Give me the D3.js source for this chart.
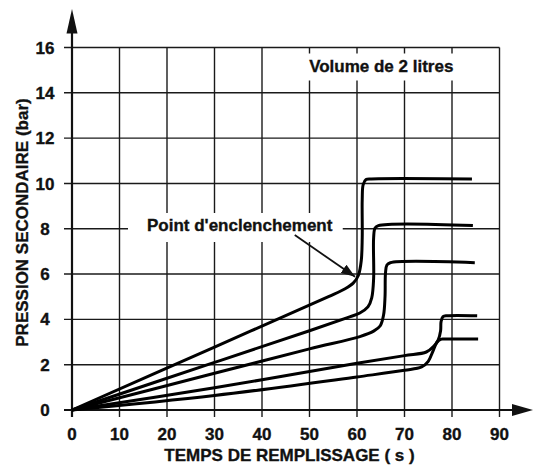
<!DOCTYPE html>
<html>
<head>
<meta charset="utf-8">
<script src="https://cdnjs.cloudflare.com/ajax/libs/d3/7.8.5/d3.min.js"></script>
<style>
body { margin: 0; background: #fff; }
text { font-family: "Liberation Sans", Arial, sans-serif; font-weight: bold; fill: #111; stroke: #111; stroke-width: 0.35px; }
</style>
</head>
<body>
<div id="chart"></div>
<script>
const xTicks = [0, 10, 20, 30, 40, 50, 60, 70, 80, 90];
const yTicks = [0, 2, 4, 6, 8, 10, 12, 14, 16];
const xTitle = "TEMPS DE REMPLISSAGE ( s )";
const yTitle = "PRESSION SECONDAIRE (bar)";
const volumeLabel = "Volume de 2 litres";
const pointLabel = "Point d'enclenchement";

// pression secondaire (bar) en fonction du temps (s)
const courbe10 = [[0, 0], [30, 2.78], [54, 5.0], [57.5, 5.35], [59.2, 5.6], [60.3, 5.95], [60.9, 6.6], [61.1, 7.6], [61.1, 9.3], [61.3, 9.95], [61.9, 10.17], [63, 10.2], [84.2, 10.2]];
const courbe8 = [[0, 0], [30, 2.1], [50, 3.5], [58, 4.08], [60.6, 4.28], [62.3, 4.55], [63.1, 4.95], [63.5, 5.8], [63.5, 7.6], [63.8, 8.03], [64.5, 8.14], [84.4, 8.14]];
const courbe65 = [[0, 0], [30, 1.62], [50, 2.7], [60.6, 3.24], [63.5, 3.48], [64.9, 3.72], [65.6, 4.2], [65.9, 5.0], [66, 6.05], [66.3, 6.4], [67, 6.5], [84.8, 6.5]];
const courbe4 = [[0, 0], [30, 0.98], [60, 2.06], [70, 2.4], [74.6, 2.56], [76.1, 2.8], [77.1, 3.1], [77.6, 3.5], [77.7, 3.9], [78.1, 4.12], [79, 4.16], [85.3, 4.16]];
const courbe3 = [[0, 0], [30, 0.64], [60, 1.46], [70, 1.75], [73.6, 1.9], [75, 2.15], [76, 2.6], [76.8, 2.98], [77.6, 3.12], [78.5, 3.13], [85.5, 3.13]];
const courbes = [courbe10, courbe8, courbe65, courbe4, courbe3];

// fleche "point d'enclenchement" : depart et pointe
const flecheDepart = [46.9, 7.72];
const flechePointe = [59.6, 5.88];

let width = 534, height = 466;
let margin = { top: 47.5, right: 34.5, bottom: 56, left: 72 };

let svg = d3.select("#chart")
    .append("svg")
    .attr("width", width)
    .attr("height", height);

let x = d3.scaleLinear().domain([0, 90]).range([margin.left, width - margin.right]);
let y = d3.scaleLinear().domain([0, 16]).range([height - margin.bottom, margin.top]);

// grid (extends past the axes as tick marks)
svg.append("g")
    .selectAll("line")
    .data(yTicks.filter(d => d > 0))
    .enter()
    .append("line")
    .attr("x1", x(0) - 8)
    .attr("x2", x(90))
    .attr("y1", d => y(d))
    .attr("y2", d => y(d))
    .attr("stroke", "#1a1a1a")
    .attr("stroke-width", 1.4);

svg.append("g")
    .selectAll("line")
    .data(xTicks.filter(d => d > 0))
    .enter()
    .append("line")
    .attr("x1", d => x(d))
    .attr("x2", d => x(d))
    .attr("y1", y(16))
    .attr("y2", y(0) + 7)
    .attr("stroke", "#1a1a1a")
    .attr("stroke-width", 1.4);

// labels with white boxes that cut the grid
function boxedLabel(str, tx, ty, anchor, pad) {
    let g = svg.append("g");
    let rect = g.append("rect").attr("fill", "#fff");
    let t = g.append("text")
        .attr("x", tx)
        .attr("y", ty)
        .attr("text-anchor", anchor)
        .style("font-size", "17px")
        .text(str);
    let b = t.node().getBBox();
    rect.attr("x", b.x - pad[3])
        .attr("y", b.y - pad[0])
        .attr("width", b.width + pad[1] + pad[3])
        .attr("height", b.height + pad[0] + pad[2]);
}
boxedLabel(volumeLabel, (x(50) + x(80)) / 2 + 0.5, 71.5, "middle", [3, 6, 5, 7]);
boxedLabel(pointLabel, 147, 231, "start", [3, 10, 7, 19]);

// axes
svg.append("line")
    .attr("x1", x(0)).attr("x2", x(0))
    .attr("y1", y(0) + 7).attr("y2", y(16) - 16)
    .attr("stroke", "#111").attr("stroke-width", 2.2);
svg.append("path")
    .attr("d", `M${x(0)},${y(16) - 38.5} L${x(0) - 5.5},${y(16) - 14} L${x(0) + 5.5},${y(16) - 14} Z`)
    .attr("fill", "#111");

svg.append("line")
    .attr("x1", x(0) - 8).attr("x2", width - 22)
    .attr("y1", y(0)).attr("y2", y(0))
    .attr("stroke", "#111").attr("stroke-width", 2.2);
svg.append("path")
    .attr("d", `M${width - 1},${y(0)} L${width - 22},${y(0) - 6} L${width - 22},${y(0) + 6} Z`)
    .attr("fill", "#111");

// tick labels
svg.append("g")
    .selectAll("text")
    .data(yTicks)
    .enter()
    .append("text")
    .attr("x", 45)
    .attr("y", d => y(d))
    .attr("dy", "0.36em")
    .attr("text-anchor", "middle")
    .style("font-size", "17px")
    .text(d => d);

svg.append("g")
    .selectAll("text")
    .data(xTicks)
    .enter()
    .append("text")
    .attr("x", d => x(d))
    .attr("y", y(0) + 30)
    .attr("text-anchor", "middle")
    .style("font-size", "17px")
    .text(d => d);

// axis titles
svg.append("text")
    .attr("x", 289.5)
    .attr("y", 461)
    .attr("text-anchor", "middle")
    .style("font-size", "17px")
    .text(xTitle);

svg.append("text")
    .attr("transform", "translate(28,222.5) rotate(-90)")
    .attr("text-anchor", "middle")
    .style("font-size", "17px")
    .text(yTitle);

// curves
let line = d3.line()
    .x(d => x(d[0]))
    .y(d => y(d[1]))
    .curve(d3.curveCatmullRom.alpha(0.5));

svg.append("g")
    .selectAll("path")
    .data(courbes)
    .enter()
    .append("path")
    .attr("fill", "none")
    .attr("stroke", "#000")
    .attr("stroke-width", 3)
    .attr("stroke-linejoin", "round")
    .attr("stroke-linecap", "butt")
    .attr("d", line);

// arrow to switching point
svg.append("defs")
    .append("marker")
    .attr("id", "head")
    .attr("markerUnits", "userSpaceOnUse")
    .attr("viewBox", "0 0 14 10")
    .attr("refX", 14)
    .attr("refY", 5)
    .attr("markerWidth", 14)
    .attr("markerHeight", 10)
    .attr("orient", "auto")
    .append("path")
    .attr("d", "M0,0 L14,5 L0,10 Z")
    .attr("fill", "#111");

svg.append("line")
    .attr("x1", x(flecheDepart[0]))
    .attr("y1", y(flecheDepart[1]))
    .attr("x2", x(flechePointe[0]))
    .attr("y2", y(flechePointe[1]))
    .attr("stroke", "#111")
    .attr("stroke-width", 1.8)
    .attr("marker-end", "url(#head)");
</script>
</body>
</html>
